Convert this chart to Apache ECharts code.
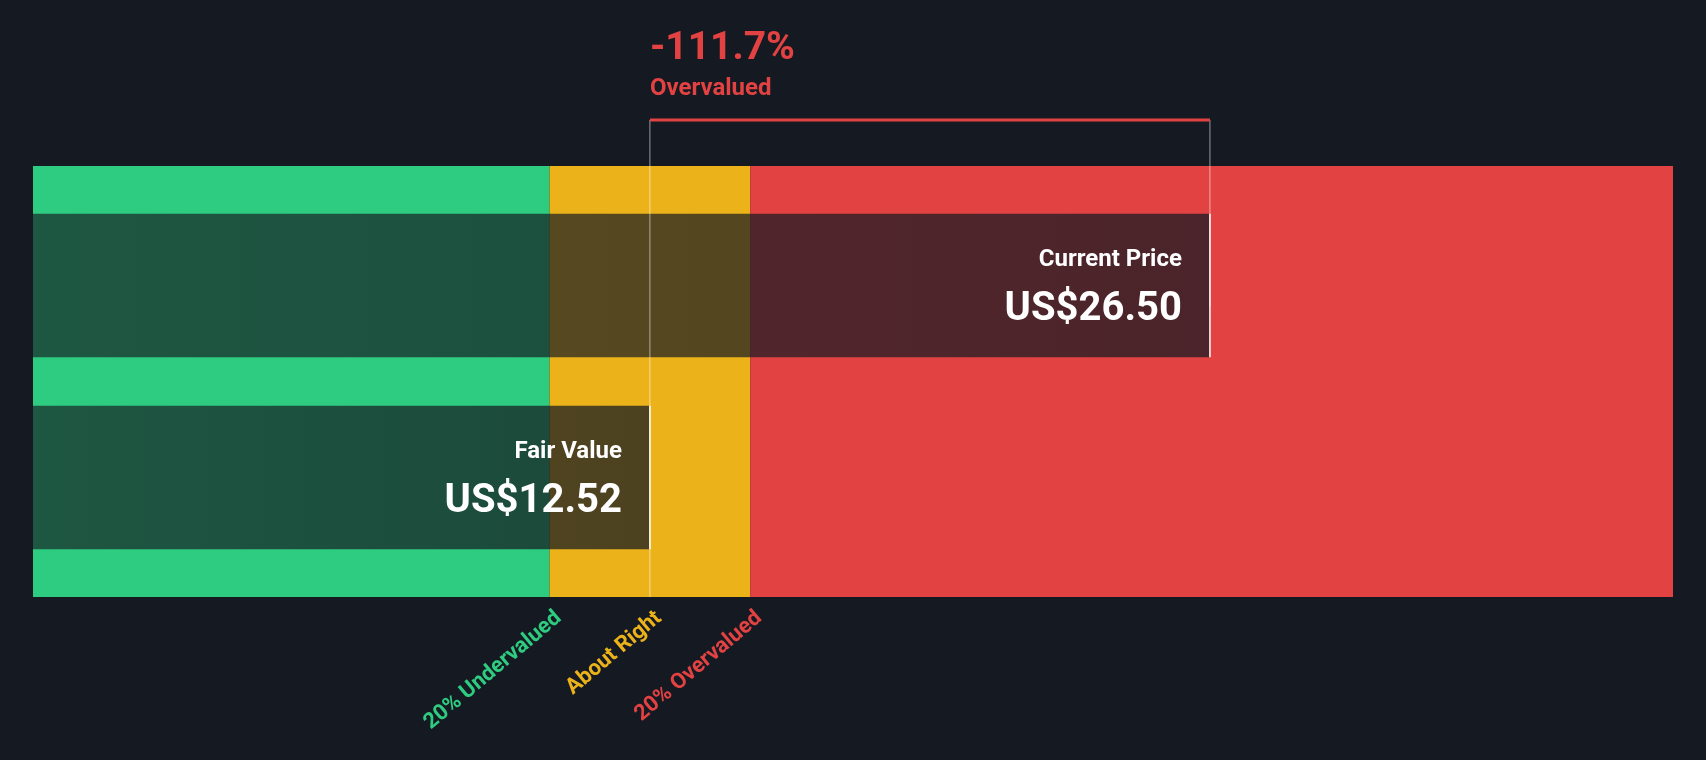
<!DOCTYPE html><html><head><meta charset="utf-8">
<script src="https://cdn.jsdelivr.net/npm/echarts@6/dist/echarts.min.js"></script>
<style>html,body{margin:0;background:#151a22}#c{width:1706px;height:760px}</style></head><body><div id="c"></div>
<script>
const axisMin = -2.88, axisMax = 38.06;
const fairValue = 12.52, currentPrice = 26.50;
const pctLabel = '-111.7%', statusLabel = 'Overvalued';
const zoneNames = ['20% Undervalued', 'About Right', '20% Overvalued'];
const zoneEnds = [fairValue * 0.8, fairValue * 1.2, axisMax];
const zoneColors = ['#2ecc80', '#ebb21a', '#e34242'];
const barNames = ['Current Price', 'Fair Value'];
const barValues = [currentPrice, fairValue];
const barPrices = ['US$26.50', 'US$12.52'];
const barRows = [[0.556, 0.889], [0.111, 0.444]]; // y ranges (value axis 0..1, bottom up)
const F = 'Roboto, sans-serif';
const chart = echarts.init(document.getElementById('c'));
const zoneData = zoneNames.map((n, i) => [i === 0 ? axisMin : zoneEnds[i - 1], zoneEnds[i], i]);
chart.setOption({
  backgroundColor: '#151a22', animation: false,
  grid: { left: 33, right: 33, top: 166, bottom: 163 },
  xAxis: { type: 'value', min: axisMin, max: axisMax, show: false },
  yAxis: { type: 'value', min: 0, max: 1, show: false },
  series: [
    { type: 'custom', data: zoneData, renderItem: (p, api) => {
        const a = api.coord([api.value(0), 1]), b = api.coord([api.value(1), 0]);
        const i = api.value(2);
        const ta = api.coord([api.value(1), 0]);
        const children = [{ type: 'rect', shape: { x: a[0], y: a[1], width: b[0] - a[0], height: b[1] - a[1] }, style: { fill: zoneColors[i] } }];
        return { type: 'group', children };
      } },
    { type: 'custom', data: barValues.map((v, i) => [v, i]), z: 3, renderItem: (p, api) => {
        const i = api.value(1), r = barRows[i];
        const a = api.coord([axisMin, r[1]]), b = api.coord([api.value(0), r[0]]);
        return { type: 'group', children: [
          { type: 'rect', shape: { x: a[0], y: a[1], width: b[0] - a[0], height: b[1] - a[1] },
            style: { fill: new echarts.graphic.LinearGradient(0, 0, 1, 0, [{ offset: 0, color: 'rgba(21,26,34,0.66)' }, { offset: 1, color: 'rgba(21,26,34,0.74)' }]) } },
          { type: 'line', shape: { x1: b[0], y1: a[1], x2: b[0], y2: b[1] }, style: { stroke: '#ffffff', lineWidth: 1.5 } },
          { type: 'text', style: { x: b[0] - 28, y: a[1] + 46, text: barNames[i], fill: '#fff', font: 'bold 24px ' + F, align: 'right', verticalAlign: 'middle' } },
          { type: 'text', style: { x: b[0] - 28, y: a[1] + 96, text: barPrices[i], fill: '#fff', font: 'bold 40px ' + F, align: 'right', verticalAlign: 'middle' } }
        ] };
      } },
    { type: 'custom', data: [[fairValue, currentPrice]], z: 4, renderItem: (p, api) => {
        const f = api.coord([api.value(0), 0]), c = api.coord([api.value(1), 1]);
        const top = 120;
        return { type: 'group', children: [
          { type: 'line', shape: { x1: f[0], y1: top, x2: f[0], y2: f[1] }, style: { stroke: 'rgba(255,255,255,0.55)', lineWidth: 1 } },
          { type: 'line', shape: { x1: c[0], y1: top, x2: c[0], y2: c[1] + 140 }, style: { stroke: 'rgba(255,255,255,0.55)', lineWidth: 1 } },
          { type: 'line', shape: { x1: f[0], y1: top, x2: c[0], y2: top }, style: { stroke: '#e34242', lineWidth: 3 } },
          { type: 'text', style: { x: f[0], y: 49, text: pctLabel, fill: '#e34242', font: 'bold 39px ' + F, align: 'left', verticalAlign: 'middle' } },
          { type: 'text', style: { x: f[0], y: 89, text: statusLabel, fill: '#e34242', font: 'bold 24px ' + F, align: 'left', verticalAlign: 'middle' } }
        ] };
      } },
    { type: 'custom', data: [[zoneEnds[0], 0], [fairValue, 1], [zoneEnds[1], 2]], z: 4, renderItem: (p, api) => {
        const pt = api.coord([api.value(0), 0]), i = api.value(1);
        return { type: 'text', x: pt[0] + 2, y: pt[1] + 10, rotation: Math.PI * 40 / 180,
          style: { x: 0, y: 0, text: zoneNames[i], fill: zoneColors[i], font: 'bold 22px ' + F, align: 'right', verticalAlign: 'top' } };
      } }
  ]
});
</script></body></html>
